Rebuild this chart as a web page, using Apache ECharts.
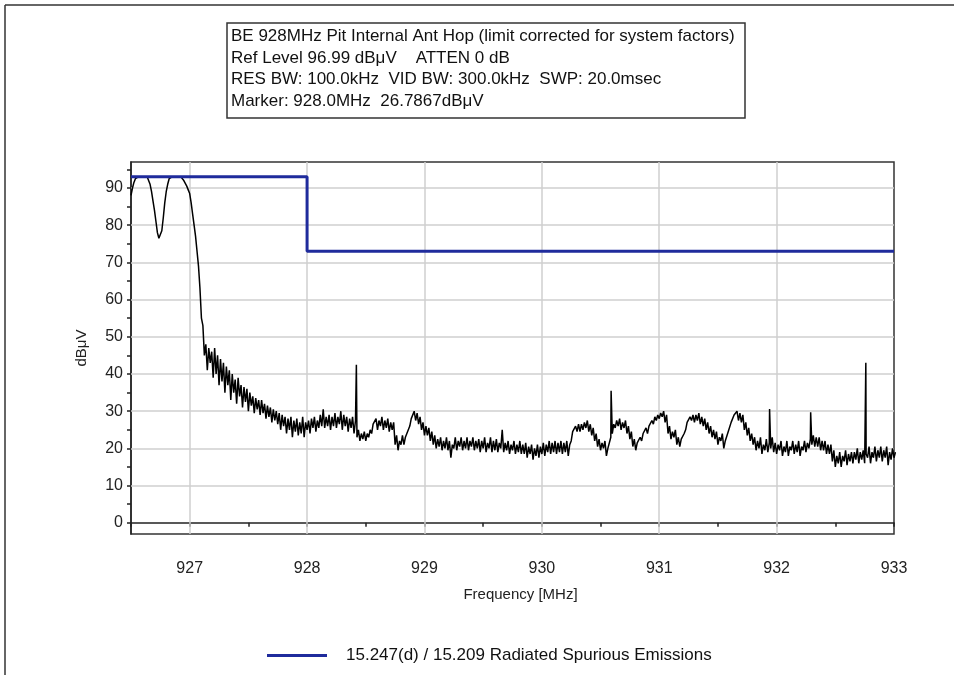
<!DOCTYPE html>
<html><head><meta charset="utf-8">
<script src="https://cdn.jsdelivr.net/npm/echarts@6/dist/echarts.min.js"></script>
<style>html,body{margin:0;padding:0;background:#fff}#c{width:954px;height:675px}</style>
</head><body><div id="c"></div>
<script>
const titleLines = [
  'BE 928MHz Pit Internal Ant Hop (limit corrected for system factors)',
  'Ref Level 96.99 dBμV    ATTEN 0 dB',
  'RES BW: 100.0kHz  VID BW: 300.0kHz  SWP: 20.0msec',
  'Marker: 928.0MHz  26.7867dBμV'
];
const xMin = 926.5, xMax = 933, yMin = -3.01, yMax = 96.99;
const xTickLabels = [927, 928, 929, 930, 931, 932, 933];
const yTickLabels = [0, 10, 20, 30, 40, 50, 60, 70, 80, 90];
const yTicks = [0, 5, 10, 15, 20, 25, 30, 35, 40, 45, 50, 55, 60, 65, 70, 75, 80, 85, 90, 95];
const xName = 'Frequency [MHz]';
const yName = 'dBμV';

// measured trace: 25 kHz buckets from 926.5 MHz; two readings per bucket
// (traceA at bucket start, traceB at bucket middle), as read off the plot
const traceStart = 926.5, traceStep = 0.025;
const traceA = [
  88, 91.5, 93, 93, 93, 93, 92.5, 89, 84, 78,
  76, 82, 89, 92.5, 93, 93, 93, 93, 92, 90.5,
  88.5, 83, 77, 69, 55, 45, 41, 43, 39, 40,
  37, 38, 35, 37, 33, 35, 32, 34, 31, 32.5,
  30, 31.5, 29.5, 30.5, 29, 29.5, 28, 28.5, 27, 27.5,
  26.5, 25, 26, 24, 25, 23, 24.5, 23.5, 24, 23,
  25, 24, 25.5, 24.5, 25.5, 26, 25.5, 26, 25, 26,
  25.5, 26.5, 25, 26, 24.5, 25.5, 24, 23, 22, 22.5,
  22, 23, 24, 26, 25, 26, 25, 25.5, 24.5, 25,
  21, 19.5, 21, 21, 22.5, 26, 28.5, 27.5, 26.5, 25,
  23.5, 23.5, 22, 21, 20, 20.5, 19.5, 20, 19.5, 17.5,
  20, 19.5, 20.5, 19.5, 20, 19.5, 20.5, 19.5, 20, 19,
  20, 19, 20, 19, 19.5, 19, 20, 19, 19.5, 18.5,
  19.5, 18.5, 19, 18.5, 18.5, 17.5, 18.5, 17, 18, 17.5,
  18.5, 18, 19, 18.5, 19, 18.5, 19, 18.5, 19, 18,
  22, 24, 24.5, 24.5, 25, 25.5, 24.5, 23.5, 22, 20.5,
  19.5, 20, 18, 20.5, 24, 25.5, 26, 25, 25.5, 24,
  22.5, 20.5, 19.5, 21, 22, 23.5, 24, 25.5, 26.5, 27.5,
  28, 28.5, 27, 24, 22.5, 23, 21, 20.5, 22, 25,
  26.5, 27.5, 27, 27.5, 26.5, 26, 25, 24, 23, 22.5,
  21, 22, 20, 22.5, 25, 27, 28.5, 27.5, 27, 25,
  23.5, 22, 21, 19.5, 20, 18.5, 19.5, 19, 20, 19,
  18.5, 19.5, 18, 19, 18, 19.5, 18.5, 19, 18, 19.5,
  19, 20, 21, 20.5, 20.5, 19.5, 19.5, 18.5, 18.5, 16.5,
  15, 16, 15, 16.5, 15.5, 16.5, 16, 17, 16, 17,
  16, 17.5, 16, 17.5, 16.5, 17.5, 16.5, 17.5, 15.5, 17,
  17.5
];
const traceB = [
  90, 92.5, 93, 93, 93, 93, 91, 86.5, 81, 76.5,
  78.5, 86, 91, 93, 93, 93, 93, 93, 91.5, 89.5,
  86, 80, 73, 63, 53, 48, 47, 46, 47, 45,
  44, 43, 42, 41, 40, 38.5, 39, 37, 36.5, 36,
  35, 34, 33.5, 33, 33, 32, 31.5, 31, 30.5, 30,
  29.5, 29, 28.5, 28, 28.5, 27.5, 28, 27, 28.5, 27,
  27.5, 28, 28.5, 27.5, 29, 30.5, 28.5, 29, 28.5, 29.5,
  28.5, 30, 29, 28.5, 28, 28.5, 27.5, 25, 24, 24.5,
  24, 25, 26.5, 28, 27.5, 28.5, 27.5, 28, 27, 27,
  23.5, 22, 23.5, 23, 25, 28, 30, 29.5, 28.5, 27,
  26, 25.5, 24.5, 23.5, 22.5, 23, 22, 23, 22, 21,
  23, 22, 23, 22, 23, 22, 23, 22, 22.5, 22,
  23, 21.5, 23, 22, 22.5, 21.5, 25, 21.5, 22, 21,
  22, 21, 22, 21, 21.5, 20.5, 21, 20, 21, 20.5,
  21.5, 21, 22, 21.5, 22, 21.5, 22, 21.5, 22, 21,
  24.5, 26, 26.5, 26.5, 27, 27.5, 26.5, 25.5, 24, 22.5,
  21.5, 22, 20, 23, 26.5, 27.5, 28, 27, 27.5, 26,
  24.5, 22.5, 21.5, 23, 24, 25.5, 26, 27.5, 28.5, 29,
  29.5, 30, 29, 26, 24.5, 25, 23, 22.5, 24, 27,
  28.5, 29, 29, 29.5, 28.5, 28, 27, 26, 25, 24.5,
  23, 24, 22, 24.5, 27, 29, 30, 29.5, 29, 27,
  25.5, 24, 23, 22, 23, 21, 22.5, 21.5, 23, 21.5,
  21, 22, 20.5, 22, 20.5, 22, 21, 22, 20.5, 22,
  21.5, 22.5, 23.5, 23, 23, 22, 22, 21, 21, 19.5,
  18, 19, 18, 19.5, 18.5, 19, 19, 20, 19, 19.5,
  18.5, 20.5, 19, 20.5, 19.5, 20.5, 19.5, 20.5, 19, 20,
  19
];
// narrow spurious spikes [MHz, dBμV]
const spikes = [[928.42, 42.5], [930.59, 35.5], [931.94, 30.6], [932.29, 29.7], [932.76, 43]];

const limitFreq = [926.5, 928, 928, 933];
const limitValues = [93, 93, 73, 73];
const legendName = '15.247(d) / 15.209 Radiated Spurious Emissions';

const FONT = '"Liberation Sans", Arial, sans-serif';
const trace = [];
traceA.forEach((v, i) => {
  const f = traceStart + i * traceStep;
  trace.push([+f.toFixed(4), v]);
  trace.push([+(f + traceStep / 2).toFixed(4), traceB[i]]);
});
spikes.forEach(s => trace.push(s));
trace.sort((a, b) => a[0] - b[0]);
const limit = limitFreq.map((f, i) => [f, limitValues[i]]);

const chart = echarts.init(document.getElementById('c'), null, {renderer: 'canvas'});
chart.setOption({
  animation: false,
  backgroundColor: '#fff',
  textStyle: {fontFamily: FONT},
  graphic: [
    {type: 'line', shape: {x1: 5, y1: 5, x2: 954, y2: 5}, style: {stroke: '#333', lineWidth: 1.5}},
    {type: 'line', shape: {x1: 5, y1: 5, x2: 5, y2: 675}, style: {stroke: '#333', lineWidth: 1.5}},
    {type: 'rect', shape: {x: 227, y: 23, width: 518, height: 95}, style: {fill: '#fff', stroke: '#333', lineWidth: 1.5}},
  ].concat(titleLines.map((t, i) => ({
    type: 'text', left: 231, top: 28 + i * 21.5,
    style: {text: t, fill: '#111', font: '17px ' + FONT}
  }))),
  grid: {left: 131, right: 60, top: 162, bottom: 141, show: true, borderColor: '#333', borderWidth: 1.5, backgroundColor: '#fff'},
  legend: {
    data: [legendName], left: 262, top: 642, selectedMode: false,
    icon: 'rect', itemWidth: 60, itemHeight: 3,
    textStyle: {fontSize: 17, color: '#111', fontFamily: FONT, padding: [0, 0, 0, 14]}
  },
  xAxis: {
    type: 'value', min: xMin, max: xMax, interval: 0.5,
    axisLine: {onZero: true, lineStyle: {color: '#222', width: 1.5}},
    axisTick: {show: true, length: 4, lineStyle: {color: '#222', width: 1.5}},
    axisLabel: {margin: 27, fontSize: 16, color: '#222', fontFamily: FONT,
      formatter: v => (Math.abs(v - Math.round(v)) < 1e-6 && xTickLabels.includes(Math.round(v))) ? String(Math.round(v)) : ''},
    splitLine: {show: false},
    name: xName, nameLocation: 'middle', nameGap: 53,
    nameTextStyle: {fontSize: 15, color: '#222', fontFamily: FONT, padding: [0, 0, 0, 16]}
  },
  yAxis: {
    type: 'value', min: yMin, max: yMax,
    axisLine: {show: true, lineStyle: {color: '#222', width: 1.5}},
    axisTick: {show: true, length: 4, customValues: yTicks, lineStyle: {color: '#222', width: 1.5}},
    axisLabel: {customValues: yTickLabels, margin: 8, fontSize: 16, color: '#222', fontFamily: FONT},
    splitLine: {show: false},
    name: yName, nameLocation: 'middle', nameGap: 42,
    nameTextStyle: {fontSize: 15, color: '#222', fontFamily: FONT}
  },
  series: [
    {
      name: 'grid', type: 'line', data: [], z: 1, silent: true,
      markLine: {
        z: 1, silent: true, symbol: 'none', label: {show: false},
        lineStyle: {color: '#cfcfcf', width: 1.5, type: 'solid'},
        emphasis: {disabled: true},
        data: yTickLabels.filter(v => v > 0).map(v => ({yAxis: v}))
          .concat(xTickLabels.filter(v => v < xMax).map(v => ({xAxis: v})))
      }
    },
    {
      name: 'trace', type: 'line', data: trace, z: 3, showSymbol: false, silent: true,
      lineStyle: {color: '#000', width: 1.5}
    },
    {
      name: legendName, type: 'line', data: limit, z: 4, showSymbol: false, silent: true,
      itemStyle: {color: '#1f2b9c'},
      lineStyle: {color: '#1f2b9c', width: 3}
    }
  ]
});
</script>
</body></html>
